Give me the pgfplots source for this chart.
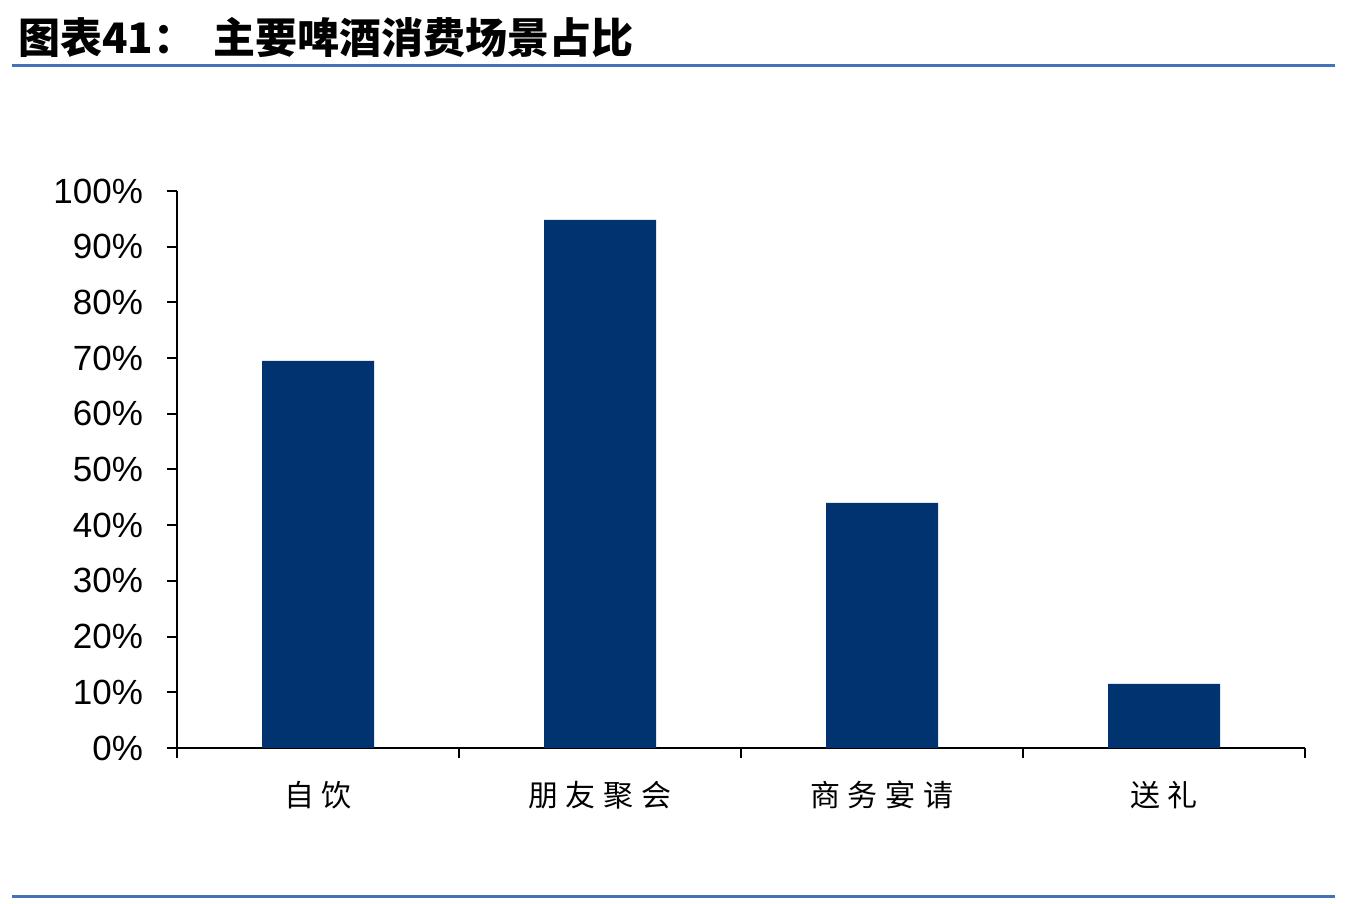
\documentclass[border=0pt]{standalone}
\usepackage{pgfplots}
\pgfplotsset{compat=1.18}
\usepackage{fontspec}
\setmainfont{Liberation Sans}
\newfontfamily\cjk{Noto Sans CJK SC}
\definecolor{barblue}{HTML}{00336F}
\definecolor{rule}{HTML}{4472B8}
\begin{document}
\begin{tikzpicture}
% page frame, 1348 x 904 px at 0.5pt per px
\path (0pt,0pt) rectangle (674pt,452pt);
\draw[rule,line width=1.5pt] (6pt,419pt) -- (667.5pt,419pt);
\draw[rule,line width=1.5pt] (6pt,3.5pt) -- (667.5pt,3.5pt);
\node[anchor=west,inner sep=0pt] at (9pt,433pt) {\cjk\bfseries\fontsize{21pt}{24pt}\selectfont 图表41：};
\node[anchor=west,inner sep=0pt] at (106.5pt,433pt) {\cjk\bfseries\fontsize{21pt}{24pt}\selectfont 主要啤酒消费场景占比};
\begin{axis}[
    at={(88.5pt,78pt)}, anchor=south west,
    scale only axis,
    width=564pt, height=278.5pt,
    xmin=-0.5, xmax=3.5,
    ymin=0, ymax=100,
    axis lines*=left,
    axis line style={line width=1pt},
    tick style={black,line width=1pt},
    tick align=outside,
    major tick length=5pt,
    xtick={-0.5,0.5,1.5,2.5,3.5},
    xticklabels={自\hspace{4pt}饮,朋\hspace{4pt}友\hspace{4pt}聚\hspace{4pt}会,商\hspace{4pt}务\hspace{4pt}宴\hspace{4pt}请,送\hspace{4pt}礼},
    x tick label as interval,
    xticklabel style={font=\cjk\fontsize{15pt}{18pt}\selectfont, yshift=-8pt},
    ytick={0,10,...,100},
    yticklabels={0\%,10\%,20\%,30\%,40\%,50\%,60\%,70\%,80\%,90\%,100\%},
    yticklabel style={font=\fontsize{17.5pt}{20pt}\selectfont, xshift=-8.5pt},
    clip=false,
]
\addplot[ybar, bar width=56pt, fill=barblue, draw=none]
    coordinates {(0,69.5) (1,94.8) (2,44.0) (3,11.5)};
\end{axis}
\end{tikzpicture}
\end{document}
